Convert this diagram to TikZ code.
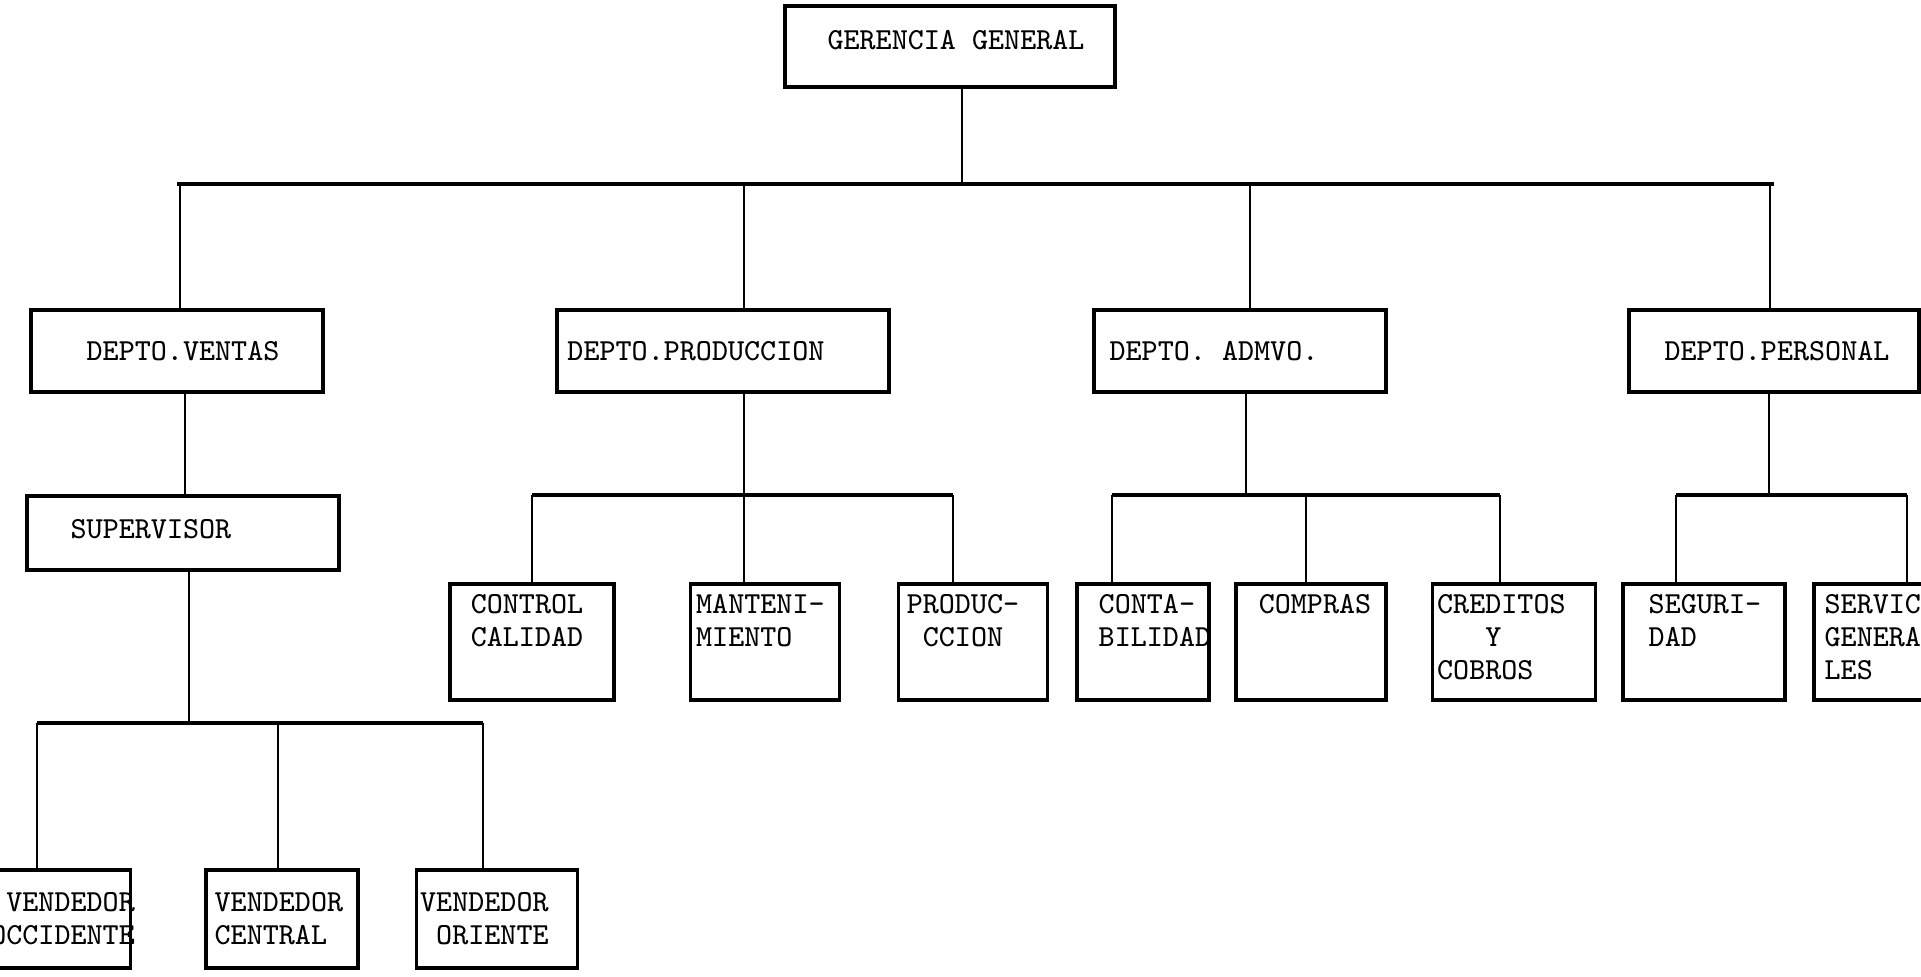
\documentclass[tikz,border=0pt]{standalone}

\tikzset{
  box/.style={draw, line width=1pt, inner sep=0pt, outer sep=0pt},
  txt/.style={font=\ttfamily\fontsize{8.7}{9.4}\selectfont, inner xsep=0pt, inner ysep=0.1cm},
  conn/.style={line width=0.6pt},
  busline/.style={line width=0.9pt}
}

\begin{document}
\begin{tikzpicture}[x=0.01cm, y=-0.01cm]
 \useasboundingbox (0,0) rectangle (1921,977);
 \clip (0,0) rectangle (1921,977);

 %general management
 \node[box, minimum width=3.3cm, minimum height=0.81cm,
   label={[txt, anchor=center, xshift=0.06cm, yshift=0.06cm]center:GERENCIA GENERAL}] (gg) at (950,46.5) {};

 %departments
 \node[box, minimum width=2.92cm, minimum height=0.82cm,
   label={[txt, anchor=center, xshift=0.06cm]center:DEPTO.VENTAS}] (ventas) at (177,351) {};
 \node[box, minimum width=3.32cm, minimum height=0.82cm,
   label={[txt, anchor=center, xshift=-0.27cm]center:DEPTO.PRODUCCION}] (prod) at (723,351) {};
 \node[box, minimum width=2.92cm, minimum height=0.82cm,
   label={[txt, anchor=center, xshift=-0.26cm]center:DEPTO. ADMVO.}] (admvo) at (1240,351) {};
 \node[box, minimum width=2.9cm, minimum height=0.82cm,
   label={[txt, anchor=center, xshift=0.03cm]center:DEPTO.PERSONAL}] (pers) at (1774,351) {};

 %sales branch
 \node[box, minimum width=3.12cm, minimum height=0.74cm,
   label={[txt, anchor=center, xshift=-0.32cm, yshift=0.04cm]center:SUPERVISOR}] (sup) at (183,533) {};
 \node[box, minimum width=1.51cm, minimum height=0.98cm,
   label={[txt, anchor=east, align=right, xshift=0.05cm]east:VENDEDOR\\OCCIDENTE}] (occ) at (55,919) {};
 \node[box, minimum width=1.52cm, minimum height=0.98cm,
   label={[txt, anchor=west, align=left, xshift=0.08cm]west:VENDEDOR\\CENTRAL}] (cent) at (282,919) {};
 \node[box, minimum width=1.61cm, minimum height=0.98cm,
   label={[txt, anchor=west, align=right, xshift=0.03cm]west:VENDEDOR\\ORIENTE}] (orie) at (497,919) {};

 %production branch
 \node[box, minimum width=1.64cm, minimum height=1.16cm,
   label={[txt, anchor=north, align=center, xshift=-0.05cm]north:CONTROL\\CALIDAD}] (ctrl) at (532,642) {};
 \node[box, minimum width=1.49cm, minimum height=1.16cm,
   label={[txt, anchor=north west, align=left, xshift=0.05cm]north west:MANTENI-\\MIENTO}] (mant) at (765,642) {};
 \node[box, minimum width=1.49cm, minimum height=1.16cm,
   label={[txt, anchor=north, align=center, xshift=-0.1cm]north:PRODUC-\\CCION}] (prodc) at (973,642) {};

 %administration branch
 \node[box, minimum width=1.32cm, minimum height=1.16cm,
   label={[txt, anchor=north west, align=left, xshift=0.21cm]north west:CONTA-\\BILIDAD}] (conta) at (1143,642) {};
 \node[box, minimum width=1.5cm, minimum height=1.16cm,
   label={[txt, anchor=north, xshift=0.04cm]north:COMPRAS}] (compras) at (1311,642) {};
 \node[box, minimum width=1.63cm, minimum height=1.16cm,
   label={[txt, anchor=north west, align=left, xshift=0.04cm]north west:CREDITOS\\\phantom{XXX}Y\\COBROS}] (cred) at (1514,642) {};

 %personnel branch
 \node[box, minimum width=1.62cm, minimum height=1.16cm,
   label={[txt, anchor=north west, align=left, xshift=0.25cm]north west:SEGURI-\\DAD}] (seg) at (1704,642) {};
 \node[box, minimum width=1.76cm, minimum height=1.16cm,
   label={[txt, anchor=north west, align=left, xshift=0.1cm]north west:SERVICIOS\\GENERA-\\LES}] (serv) at (1902,642) {};

 %levels of the bus lines
 \coordinate (bus0) at (0,184);
 \coordinate (busV) at (0,723);
 \coordinate (busP) at (0,495);

 %top level
 \draw[conn] ([xshift=0.12cm]gg.south) -- ([xshift=0.12cm]gg.south |- bus0);
 \draw[busline] (ventas.north |- bus0) -- (pers.north |- bus0);
 \draw[conn] ([xshift=0.03cm]ventas.north) -- ([xshift=0.03cm]ventas.north |- bus0);
 \draw[conn] ([xshift=0.21cm]prod.north) -- ([xshift=0.21cm]prod.north |- bus0);
 \draw[conn] ([xshift=0.1cm]admvo.north) -- ([xshift=0.1cm]admvo.north |- bus0);
 \draw[conn] ([xshift=-0.04cm]pers.north) -- ([xshift=-0.04cm]pers.north |- bus0);

 %sales
 \draw[conn] ([xshift=0.08cm]ventas.south) -- ([xshift=0.08cm]ventas.south |- sup.north);
 \draw[conn] ([xshift=0.06cm]sup.south) -- ([xshift=0.06cm]sup.south |- busV);
 \draw[busline] ([xshift=-0.18cm]occ.north |- busV) -- ([xshift=-0.14cm]orie.north |- busV);
 \draw[conn] ([xshift=-0.18cm]occ.north) -- ([xshift=-0.18cm]occ.north |- busV);
 \draw[conn] ([xshift=-0.04cm]cent.north) -- ([xshift=-0.04cm]cent.north |- busV);
 \draw[conn] ([xshift=-0.14cm]orie.north) -- ([xshift=-0.14cm]orie.north |- busV);

 %production
 \draw[conn] ([xshift=0.21cm]prod.south) -- ([xshift=0.21cm]prod.south |- busP);
 \draw[busline] (ctrl.north |- busP) -- ([xshift=-0.2cm]prodc.north |- busP);
 \draw[conn] (ctrl.north) -- (ctrl.north |- busP);
 \draw[conn] ([xshift=-0.21cm]mant.north) -- ([xshift=-0.21cm]mant.north |- busP);
 \draw[conn] ([xshift=-0.2cm]prodc.north) -- ([xshift=-0.2cm]prodc.north |- busP);

 %administration
 \draw[conn] ([xshift=0.06cm]admvo.south) -- ([xshift=0.06cm]admvo.south |- busP);
 \draw[busline] ([xshift=-0.31cm]conta.north |- busP) -- ([xshift=-0.14cm]cred.north |- busP);
 \draw[conn] ([xshift=-0.31cm]conta.north) -- ([xshift=-0.31cm]conta.north |- busP);
 \draw[conn] ([xshift=-0.05cm]compras.north) -- ([xshift=-0.05cm]compras.north |- busP);
 \draw[conn] ([xshift=-0.14cm]cred.north) -- ([xshift=-0.14cm]cred.north |- busP);

 %personnel
 \draw[conn] ([xshift=-0.05cm]pers.south) -- ([xshift=-0.05cm]pers.south |- busP);
 \draw[busline] ([xshift=-0.28cm]seg.north |- busP) -- ([xshift=0.05cm]serv.north |- busP);
 \draw[conn] ([xshift=-0.28cm]seg.north) -- ([xshift=-0.28cm]seg.north |- busP);
 \draw[conn] ([xshift=0.05cm]serv.north) -- ([xshift=0.05cm]serv.north |- busP);
\end{tikzpicture}
\end{document}
